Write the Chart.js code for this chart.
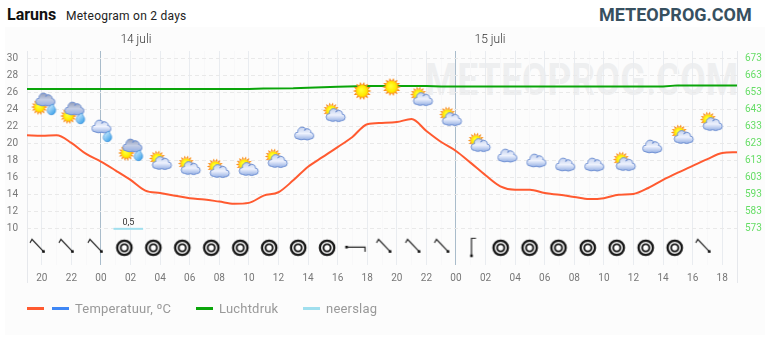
<!DOCTYPE html>
<html>
<head>
<meta charset="utf-8">
<script src="https://cdn.jsdelivr.net/npm/chart.js@4"></script>
<style>
  html, body { margin: 0; padding: 0; background: #fff; }
  body { width: 770px; height: 340px; position: relative; overflow: hidden; font-family: Roboto, sans-serif; }
  .abs { position: absolute; white-space: nowrap; }
  #panel { left: 5px; top: 27px; width: 760px; height: 308px; background: #fcfcfc; }
  #watermark { left: 425px; top: 54px; font-size: 45px; line-height: 52px; font-weight: 700; color: #eeeff0; transform-origin: 0 0; transform: scaleX(0.82); }
  #city { left: 7px; top: 5px; font-size: 16px; line-height: 20px; font-weight: 700; color: #111; }
  #sub { left: 66px; top: 8px; font-size: 12px; line-height: 16px; color: #222; letter-spacing: 0.25px; }
  #brand { left: 599px; top: 4px; font-size: 18px; line-height: 22px; font-weight: 700; color: #37505f; }
  canvas { position: absolute; left: 0; top: 0; }
  .swatch { height: 3px; width: 17px; top: 307px; }
  .leg { top: 300px; font-size: 13px; line-height: 17px; color: #999; letter-spacing: 0.2px; }
</style>
</head>
<body>
<div id="panel" class="abs"></div>
<div id="watermark" class="abs">METEOPROG.COM</div>
<div id="city" class="abs">Laruns</div>
<div id="sub" class="abs">Meteogram on 2 days</div>
<div id="brand" class="abs">METEOPROG.COM</div>
<canvas id="chart" width="770" height="340"></canvas>
<div id="legend"></div>
<script>
// hours counted from 19:00 on the first evening
const tempHours = [0,1,2,3,4,5,6,7,8,9,10,11,12,13,14,15,16,17,18,19,20,21,22,23,24,25,26,27,28,29,30,31,32,33,34,35,36,37,38,39,40,41,42,43,44,45,46,47,48];
const temperatuur = [21.0,20.95,21.0,20.1,18.8,17.9,16.85,15.75,14.5,14.2,13.9,13.6,13.45,13.2,12.95,13.05,13.9,14.3,15.7,17.3,18.45,19.6,20.8,22.3,22.45,22.55,22.9,21.5,20.2,19.15,17.75,16.3,15.0,14.6,14.6,14.2,14.0,13.75,13.5,13.6,14.0,14.1,14.8,15.75,16.6,17.4,18.2,18.9,19.0];

const drukHours = [0,15,16,18,20,21,23,27,28,43,44,48];
const luchtdruk = [655.1,655.1,655.4,655.6,656.2,656.5,657.0,657.0,656.7,656.7,657.3,657.3];

const neerslagHours = [5.85,7.85];
const neerslag = [0.5,0.5];

const hourLabels = ['20','22','00','02','04','06','08','10','12','14','16','18','20','22','00','02','04','06','08','10','12','14','16','18'];
const tempTicks = [10,12,14,16,18,20,22,24,26,28,30];
const drukTicks = [573,583,593,603,613,623,633,643,653,663,673];
const dayHours = [7.36,31.3];
const dayLabels = ['14 juli','15 juli'];
const midnights = [5,29];

const iconHours = [1.11,3.07,5.03,6.99,8.95,10.9,12.86,14.82,16.78,18.74,20.7,22.66,24.65,26.6,28.56,30.5,32.48,34.44,36.39,38.35,40.31,42.27,44.23,46.19];
const iconTemps = [24.67,23.61,21.5,19.27,18.09,17.5,17.15,17.39,18.33,21.15,23.73,26.2,26.67,25.61,23.26,20.2,18.56,17.97,17.5,17.5,17.97,19.62,21.15,22.67];
const iconKinds = ['scr','scr','cr','scr','sc','sc','sc','sc','sc','c','sc','s','s','sc','sc','sc','c','c','c','c','sc','c','sc','sc'];

const windHours = [0.74,2.7,4.66,6.58,8.54,10.5,12.46,14.42,16.37,18.33,20.29,22.21,24.17,26.13,28.09,30.05,32.02,33.98,35.93,37.91,39.87,41.83,43.79,45.75];
const windLevel = [7.77,7.77,7.77,7.77,7.77,7.77,7.77,7.77,7.77,7.77,7.77,7.77,7.77,7.77,7.77,7.77,7.77,7.77,7.77,7.77,7.77,7.77,7.77,7.77];
const windKinds = ['nw','nw','nw','calm','calm','calm','calm','calm','calm','calm','calm','w','nw','nw','nw','n','calm','calm','calm','calm','calm','calm','calm','nw'];

// small pictures used as point styles
function makeCanvas(size, draw) {
  const c = document.createElement('canvas');
  c.width = size;
  c.height = size;
  draw(c.getContext('2d'));
  return c;
}

function drawSun(g, x, y, r) {
  g.fillStyle = '#f98a12';
  for (let i = 0; i < 14; i++) {
    const a = i * Math.PI / 7;
    g.beginPath();
    g.moveTo(x + Math.cos(a - 0.22) * r, y + Math.sin(a - 0.22) * r);
    g.lineTo(x + Math.cos(a) * (r + 3), y + Math.sin(a) * (r + 3));
    g.lineTo(x + Math.cos(a + 0.22) * r, y + Math.sin(a + 0.22) * r);
    g.fill();
  }
  const grad = g.createRadialGradient(x - 1, y - 1, 1, x, y, r);
  grad.addColorStop(0, '#ffff30');
  grad.addColorStop(0.75, '#ffe800');
  grad.addColorStop(1, '#ffb000');
  g.fillStyle = grad;
  g.beginPath();
  g.arc(x, y, r, 0, Math.PI * 2);
  g.fill();
}

function drawCloud(g, x, y, dark) {
  g.beginPath();
  g.arc(x - 6, y + 1.5, 3.5, Math.PI * 0.5, Math.PI * 1.5);
  g.arc(x - 2, y - 2.5, 4.4, Math.PI, Math.PI * 1.85);
  g.arc(x + 3, y - 1.5, 3.8, Math.PI * 1.2, Math.PI * 1.95);
  g.arc(x + 6.2, y + 1.8, 3.3, Math.PI * 1.5, Math.PI * 0.5);
  g.quadraticCurveTo(x + 3, y + 7, x, y + 5.2);
  g.quadraticCurveTo(x - 3, y + 6.6, x - 6, y + 5);
  g.closePath();
  const grad = g.createLinearGradient(0, y - 7, 0, y + 6);
  grad.addColorStop(0, dark ? '#8f9ab6' : '#c2d0ee');
  grad.addColorStop(0.5, dark ? '#c3cde4' : '#eef2fd');
  grad.addColorStop(1, '#93aee4');
  g.fillStyle = grad;
  g.fill();
  g.strokeStyle = '#6f90d2';
  g.lineWidth = 1;
  g.stroke();
}

function drawDrop(g, x, y) {
  g.beginPath();
  g.moveTo(x + 1.5, y - 5);
  g.bezierCurveTo(x + 2.5, y - 2, x + 4.4, y - 1, x + 4.2, y + 1.3);
  g.arc(x, y + 1.5, 4.2, 0, Math.PI);
  g.bezierCurveTo(x - 4.2, y - 1.5, x - 1, y - 3.5, x + 1.5, y - 5);
  g.closePath();
  const grad = g.createLinearGradient(x - 4, y - 3, x + 4, y + 5);
  grad.addColorStop(0, '#d6f0ff');
  grad.addColorStop(1, '#2f9be8');
  g.fillStyle = grad;
  g.fill();
  g.strokeStyle = '#3a8fd8';
  g.lineWidth = 0.7;
  g.stroke();
}

const icons = {
  s: makeCanvas(30, g => drawSun(g, 15, 15, 6.3)),
  c: makeCanvas(30, g => drawCloud(g, 15, 15, false)),
  sc: makeCanvas(30, g => { drawSun(g, 13, 13.5, 5.3); drawCloud(g, 17.5, 18.5, false); }),
  cr: makeCanvas(30, g => { drawCloud(g, 15, 11, false); drawDrop(g, 21, 20); }),
  scr: makeCanvas(30, g => { drawSun(g, 11, 18, 5.3); drawCloud(g, 17, 11, true); drawDrop(g, 23, 20); })
};

function dot(g, x, y) {
  g.fillStyle = '#111';
  g.fillRect(x - 1.3, y - 1.3, 2.6, 2.6);
}

function arrow(points, end) {
  return makeCanvas(24, g => {
    g.strokeStyle = '#222';
    g.lineWidth = 1.2;
    g.beginPath();
    points.forEach((p, i) => i ? g.lineTo(p[0], p[1]) : g.moveTo(p[0], p[1]));
    g.stroke();
    dot(g, end[0], end[1]);
  });
}

const wind = {
  nw: arrow([[4,7],[6,3.5],[17.5,15.7]], [17.5,15.7]),
  w: arrow([[21.5,16],[21.5,11.3],[3,11.3]], [3,11.3]),
  n: arrow([[16.5,2.5],[12,2.5],[12,20]], [12,20]),
  calm: makeCanvas(24, g => {
    g.fillStyle = '#fff';
    g.beginPath();
    g.arc(12, 12, 8, 0, Math.PI * 2);
    g.fill();
    g.strokeStyle = '#151515';
    g.lineWidth = 2.3;
    g.beginPath();
    g.arc(12, 12, 7.2, 0, Math.PI * 2);
    g.stroke();
    g.lineWidth = 1.9;
    g.beginPath();
    g.arc(12, 12, 3.6, 0, Math.PI * 2);
    g.stroke();
  })
};

function pairs(xs, ys) {
  return xs.map((x, i) => ({ x: x, y: ys[i] }));
}

// value above the rain line and the dates above the plot
const textLabels = {
  id: 'textLabels',
  afterDatasetsDraw(chart) {
    const ds = chart.data.datasets.findIndex(d => d.label === 'neerslag');
    const pts = chart.getDatasetMeta(ds).data;
    const g = chart.ctx;
    g.save();
    g.font = '9px Roboto';
    g.fillStyle = '#333';
    g.textAlign = 'center';
    g.textBaseline = 'bottom';
    g.fillText(String(neerslag[0]).replace('.', ','), (pts[0].x + pts[1].x) / 2, pts[0].y - 1.5);
    g.font = '300 12px Roboto';
    g.textBaseline = 'middle';
    dayLabels.forEach((d, i) => g.fillText(d, chart.scales.x.getPixelForValue(dayHours[i]), 40));
    g.restore();
  }
};

const font = { family: 'Roboto', size: 10 };

const ctx = document.getElementById('chart').getContext('2d');
const myChart = new Chart(ctx, {
  type: 'line',
  data: {
    datasets: [
      { label: 'iconen', data: pairs(iconHours, iconTemps), showLine: false, yAxisID: 'y', pointStyle: iconKinds.map(k => icons[k]), pointRadius: 10 },
      { label: 'wind', data: pairs(windHours, windLevel), showLine: false, yAxisID: 'y', pointStyle: windKinds.map(k => wind[k]), pointRadius: 10 },
      { label: 'Temperatuur, ºC', data: pairs(tempHours, temperatuur), yAxisID: 'y', borderColor: '#ff5a30', borderWidth: 2, cubicInterpolationMode: 'monotone', pointRadius: 0 },
      { label: '', data: [], yAxisID: 'y', borderColor: '#3f87f5', pointRadius: 0 },
      { label: 'Luchtdruk', data: pairs(drukHours, luchtdruk), yAxisID: 'yDruk', borderColor: '#0aa50a', borderWidth: 2, pointRadius: 0 },
      { label: 'neerslag', data: pairs(neerslagHours, neerslag), yAxisID: 'yRain', borderColor: '#a0dfee', borderWidth: 2, pointRadius: 0 }
    ]
  },
  options: {
    responsive: false,
    animation: false,
    layout: { padding: { top: 51, left: 0, right: 0, bottom: 0 } },
    plugins: { legend: { display: false }, tooltip: { enabled: false } },
    scales: {
      x: {
        type: 'linear',
        min: 0,
        max: 48,
        afterFit: s => { s.height = 75; },
        afterBuildTicks: s => { s.ticks = tempHours.map(h => ({ value: h })); },
        border: { display: false },
        grid: {
          tickLength: 18,
          color: c => {
            const h = c.tick.value;
            if (midnights.includes(h)) return '#a9bccb';
            if (h === 0 || h === 48) return '#e6e8ec';
            return h % 2 ? '#e9ecf0' : '#f8f8f9';
          },
          tickColor: c => (c.tick.value === 0 || c.tick.value === 48) ? '#e6e8ec' : 'rgba(0,0,0,0)'
        },
        ticks: {
          autoSkip: false,
          maxRotation: 0,
          padding: -11,
          font: font,
          color: '#777',
          callback: v => v % 2 ? hourLabels[(v - 1) / 2] : ''
        }
      },
      y: {
        min: 5.75,
        max: 30.9,
        afterFit: s => { s.width = 27; },
        afterBuildTicks: s => { s.ticks = tempTicks.map(v => ({ value: v })); },
        border: { display: false, dash: [4, 3] },
        grid: { color: '#e9e9e9', drawTicks: false },
        ticks: { padding: 9, font: font, color: '#777' }
      },
      yDruk: {
        position: 'right',
        min: 551.75,
        max: 677.5,
        afterFit: s => { s.width = 33; },
        afterBuildTicks: s => { s.ticks = drukTicks.map(v => ({ value: v })); },
        border: { display: false },
        grid: { display: false, drawTicks: false },
        ticks: { padding: 8, font: font, color: '#66dd66' }
      },
      yRain: {
        display: false,
        min: -3.75,
        max: 21.4
      }
    }
  },
  plugins: [textLabels]
});

// legend under the chart, same names as the datasets
const legendColors = ['#ff5a30', '#3f87f5', '#0aa50a', '#a0dfee'];
const legendNames = ['', 'Temperatuur, ºC', 'Luchtdruk', 'neerslag'];
const legendLeft = [27, 52, 196, 303];
const legendBox = document.getElementById('legend');
legendNames.forEach((name, i) => {
  const sw = document.createElement('div');
  sw.className = 'abs swatch';
  sw.style.left = legendLeft[i] + 'px';
  sw.style.background = legendColors[i];
  legendBox.appendChild(sw);
  if (name) {
    const t = document.createElement('div');
    t.className = 'abs leg';
    t.style.left = (legendLeft[i] + 23) + 'px';
    t.textContent = name;
    legendBox.appendChild(t);
  }
});
</script>
</body>
</html>
